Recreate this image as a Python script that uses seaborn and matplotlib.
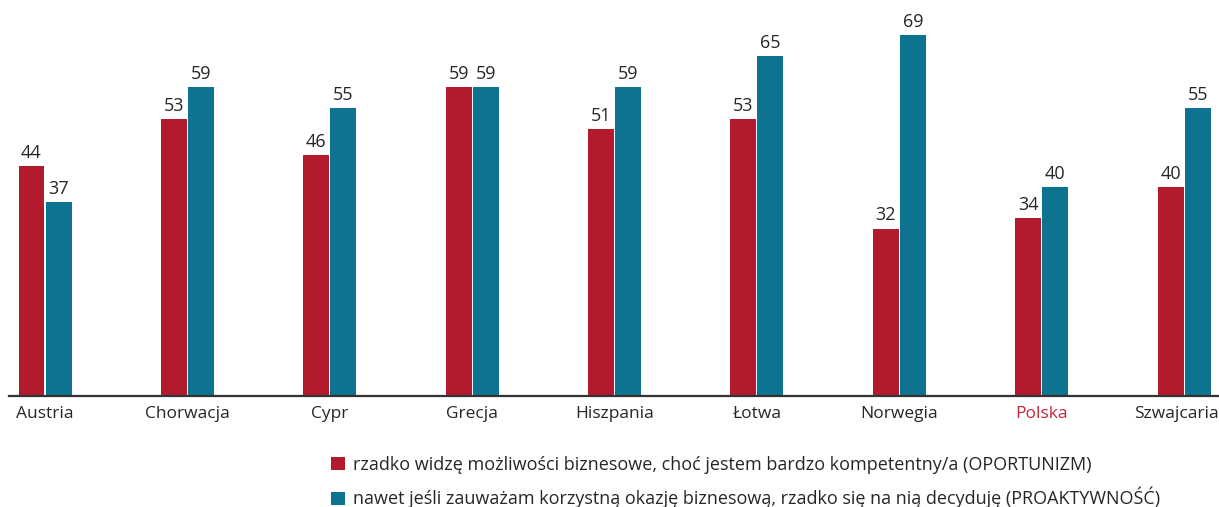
import matplotlib
matplotlib.use("Agg")
import matplotlib.pyplot as plt
from matplotlib.patches import Patch
from matplotlib.transforms import ScaledTranslation
import seaborn as sns
import pandas as pd

countries = ["Austria", "Chorwacja", "Cypr", "Grecja", "Hiszpania",
             "Łotwa", "Norwegia", "Polska", "Szwajcaria"]
oportunizm = [44, 53, 46, 59, 51, 53, 32, 34, 40]
proaktywnosc = [37, 59, 55, 59, 59, 65, 69, 40, 55]
series_names = [
    "rzadko widzę możliwości biznesowe, choć jestem bardzo kompetentny/a (OPORTUNIZM)",
    "nawet jeśli zauważam korzystną okazję biznesową, rzadko się na nią decyduję (PROAKTYWNOŚĆ)",
]
colors = ["#b41a2e", "#0e7391"]

df = pd.DataFrame({
    "kraj": countries * 2,
    "wartosc": oportunizm + proaktywnosc,
    "seria": [series_names[0]] * len(countries) + [series_names[1]] * len(countries),
})

sns.set_theme(style="white")
plt.rcParams["font.family"] = ["Open Sans", "DejaVu Sans"]

W, H = 1219, 507
fig = plt.figure(figsize=(W / 100, H / 100), dpi=100)
ax = fig.add_axes([9 / W, (H - 396) / H, 1 - 9 / W, 396 / H])

sns.barplot(data=df, x="kraj", y="wartosc", hue="seria", palette=colors,
            width=0.38, gap=0.04, legend=False, ax=ax, saturation=1,
            linewidth=0, edgecolor="none")

for cont in ax.containers:
    ax.bar_label(cont, fmt="%d", padding=3, fontsize=13, color="#262626")

ax.set_xlim(-0.253, 8.245)
ax.set_ylim(0, 75.7)
ax.set_xlabel("")
ax.set_ylabel("")
ax.set_yticks([])
for side in ["top", "right", "left"]:
    ax.spines[side].set_visible(False)
ax.spines["bottom"].set_color("#333333")
ax.spines["bottom"].set_linewidth(1.6)
ax.tick_params(axis="x", length=0, pad=7, labelsize=12.5, labelcolor="#262626")
labels = ax.get_xticklabels()
for lbl in labels:
    if lbl.get_text() == "Polska":
        lbl.set_color("#c0283c")
# keep the last category name inside the right edge
labels[-1].set_transform(labels[-1].get_transform()
                         + ScaledTranslation(-8 / 100, 0, fig.dpi_scale_trans))

handles = [Patch(facecolor=c, edgecolor="none") for c in colors]
fig.legend(handles, series_names, loc="upper left",
           bbox_to_anchor=(331 / W, 1 - 456 / H), frameon=False,
           fontsize=13, labelcolor="#262626", handlelength=0.75,
           handleheight=0.75, handletextpad=0.45, labelspacing=0.72,
           borderaxespad=0, borderpad=0)

fig.savefig("out.png", dpi=100)
